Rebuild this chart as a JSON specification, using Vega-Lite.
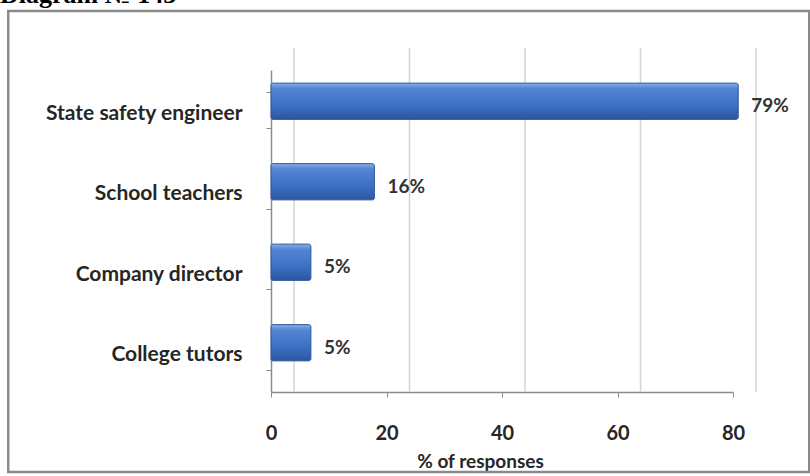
{
  "$schema": "https://vega.github.io/schema/vega-lite/v6.json",
  "autosize": {"type": "none"},
  "padding": {"left": 271, "top": 70, "right": 77, "bottom": 84},
  "width": 462,
  "height": 322,
  "background": "white",
  "title": {
    "text": "Diagram № 143",
    "anchor": "start",
    "frame": "group",
    "orient": "top",
    "font": "Liberation Serif",
    "fontSize": 26,
    "fontWeight": "bold",
    "color": "#000000",
    "dx": -271,
    "dy": 19,
    "offset": 0,
    "baseline": "alphabetic"
  },
  "data": {
    "values": [
      {"role": "State safety engineer", "pct": 79, "label": "79%"},
      {"role": "School teachers", "pct": 16, "label": "16%"},
      {"role": "Company director", "pct": 5, "label": "5%"},
      {"role": "College tutors", "pct": 5, "label": "5%"}
    ]
  },
  "layer": [
    {
      "data": {"values": [{}]},
      "mark": {"type": "rect", "fill": "transparent", "stroke": "#8a8a8a", "strokeWidth": 2.5, "clip": false},
      "encoding": {
        "x": {"datum": -45.5, "type": "quantitative", "scale": {"domain": [0, 80], "nice": false, "zero": true}},
        "x2": {"datum": 93.2},
        "y": {"datum": 381, "type": "quantitative", "scale": {"domain": [0, 322], "nice": false}, "axis": null},
        "y2": {"datum": -80}
      }
    },
    {
      "layer": [
        {
          "data": {"values": [{"g": 0}, {"g": 20}, {"g": 40}, {"g": 60}, {"g": 80}]},
          "mark": {"type": "rule", "color": "#d4d4d4", "strokeWidth": 1.5, "xOffset": 23, "yOffset": -22},
          "encoding": {
            "x": {"field": "g", "type": "quantitative", "scale": {"domain": [0, 80], "nice": false, "zero": true}}
          }
        },
        {
          "mark": {
            "type": "bar",
            "xOffset": 11,
            "x2Offset": 11,
            "yOffset": -9,
            "y2Offset": -9,
            "cornerRadius": 2,
            "stroke": "#2b5597",
            "strokeWidth": 1,
            "color": {
              "gradient": "linear",
              "x1": 0, "y1": 0, "x2": 0, "y2": 1,
              "stops": [
                {"offset": 0, "color": "#86aee8"},
                {"offset": 0.15, "color": "#5485d3"},
                {"offset": 0.6, "color": "#3e70c4"},
                {"offset": 1, "color": "#2b579f"}
              ]
            }
          },
          "encoding": {
            "y": {
              "field": "role",
              "type": "nominal",
              "sort": ["State safety engineer", "School teachers", "Company director", "College tutors"],
              "scale": {"paddingInner": 0.55, "paddingOuter": 0.275},
              "axis": {"title": null}
            },
            "x": {
              "field": "pct",
              "type": "quantitative",
              "stack": null,
              "scale": {"domain": [0, 80], "nice": false, "zero": true},
              "axis": {"title": "% of responses", "values": [0, 20, 40, 60, 80]}
            }
          }
        },
        {
          "mark": {"type": "text", "align": "left", "baseline": "middle", "dx": 24, "dy": -4, "font": "Lato", "fontWeight": "bold", "fontSize": 19, "color": "#333333"},
          "encoding": {
            "y": {
              "field": "role",
              "type": "nominal",
              "sort": ["State safety engineer", "School teachers", "Company director", "College tutors"]
            },
            "x": {"field": "pct", "type": "quantitative"},
            "text": {"field": "label", "type": "nominal"}
          }
        }
      ]
    }
  ],
  "resolve": {"scale": {"y": "independent"}},
  "config": {
    "view": {"stroke": null},
    "axis": {
      "labelFont": "Lato",
      "labelFontWeight": "bold",
      "labelFontSize": 20,
      "labelColor": "#262626",
      "domainColor": "#8c8c8c",
      "domainWidth": 1.5,
      "tickColor": "#8c8c8c",
      "titleFont": "Lato",
      "titleFontWeight": "bold",
      "titleFontSize": 19,
      "titleColor": "#262626",
      "grid": false
    },
    "axisX": {"tickSize": 5, "labelPadding": 26, "labelFlush": false, "titleX": 209, "titleY": 75, "titleBaseline": "alphabetic"},
    "axisY": {"tickSize": 5, "tickBand": "extent", "labelPadding": 24, "labelOffset": 3, "labelFontSize": 21, "labelLimit": 300}
  }
}
